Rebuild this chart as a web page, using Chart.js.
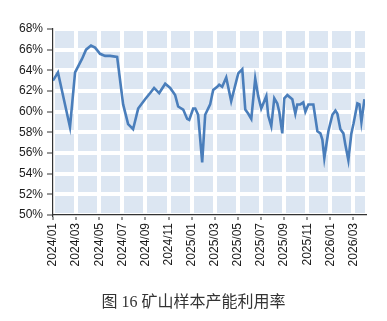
<!DOCTYPE html>
<html>
<head>
<meta charset="utf-8">
<script src="https://cdn.jsdelivr.net/npm/chart.js@4/dist/chart.umd.min.js"></script>
<style>
  body { margin: 0; background: #fff; }
  #wrap { position: relative; width: 387px; height: 321px; }
  #caption {
    position: absolute; left: 0; top: 288px; width: 387px; text-align: center;
    font-family: "Liberation Serif", "Noto Sans CJK SC", serif; font-size: 16px; color: #333;
  }
</style>
</head>
<body>
<div id="wrap">
  <canvas id="rateChart" width="387" height="321"></canvas>
  <div id="caption">图 16 矿山样本产能利用率</div>
</div>
<script>

// months since 2024/01 and utilisation rate in %
const months = [
  0.00, 0.43, 1.47, 1.91, 2.51, 2.86, 3.29, 3.64, 4.07, 4.51, 4.94, 5.55,
  6.07, 6.50, 6.93, 7.37, 7.97, 8.41, 8.75, 9.19, 9.71, 10.14, 10.57, 10.83,
  11.27, 11.61, 11.79, 12.13, 12.31, 12.56, 12.91, 13.17, 13.60, 13.86, 14.21, 14.38,
  14.64, 14.99, 15.42, 16.03, 16.38, 16.64, 16.90, 17.16, 17.50, 17.76, 18.02, 18.46,
  18.63, 18.89, 19.15, 19.41, 19.58, 19.84, 20.02, 20.28, 20.71, 20.97, 21.14, 21.40,
  21.66, 21.84, 22.10, 22.53, 22.88, 23.14, 23.31, 23.48, 23.83, 24.18, 24.44, 24.61,
  24.87, 25.13, 25.30, 25.56, 25.82, 26.00, 26.34, 26.52, 26.69, 26.95
];
const rates = [
  63.0, 63.8, 58.5, 63.8, 65.1, 66.0, 66.4, 66.2, 65.6, 65.4, 65.4, 65.3,
  60.7, 58.8, 58.3, 60.3, 61.2, 61.8, 62.3, 61.8, 62.7, 62.3, 61.6, 60.5,
  60.2, 59.3, 59.2, 60.3, 60.3, 59.7, 55.1, 59.7, 60.7, 62.1, 62.4, 62.6,
  62.4, 63.3, 61.0, 63.7, 64.1, 60.2, 59.8, 59.3, 63.2, 61.5, 60.3, 61.5,
  59.6, 58.6, 61.3, 60.8, 60.0, 57.9, 61.3, 61.6, 61.2, 59.8, 60.7, 60.7,
  60.9, 60.0, 60.7, 60.7, 58.1, 57.9, 57.3, 55.5, 58.1, 59.7, 60.1, 59.8,
  58.3, 57.9, 56.8, 55.3, 57.9, 58.8, 60.8, 60.7, 59.0, 61.2
];
const tickLabels = [
  '2024/01', '2024/03', '2024/05', '2024/07', '2024/09', '2024/11',
  '2025/01', '2025/03', '2025/05', '2025/07', '2025/09', '2025/11',
  '2026/01', '2026/03'
];

const points = months.map((m, i) => ({ x: m, y: rates[i] }));

// light blue plot background like the excel default
const plotBg = {
  id: 'plotBg',
  beforeDraw(chart) {
    const a = chart.chartArea;
    const ctx = chart.ctx;
    ctx.save();
    ctx.fillStyle = '#dce6f2';
    ctx.fillRect(a.left, a.top, a.right - a.left, a.bottom - a.top);
    ctx.restore();
  }
};

const tickFont = { family: 'Liberation Sans', size: 12 };

new Chart(document.getElementById('rateChart').getContext('2d'), {
  type: 'line',
  data: {
    datasets: [{
      data: points,
      borderColor: '#4a7ebb',
      borderWidth: 2.6,
      pointRadius: 0,
      tension: 0,
      fill: false
    }]
  },
  options: {
    responsive: false,
    animation: false,
    layout: { padding: { left: 0, top: 29, right: 22, bottom: 0 } },
    plugins: { legend: { display: false }, tooltip: { enabled: false } },
    scales: {
      x: {
        type: 'linear',
        min: 0,
        max: 27,
        afterBuildTicks: (scale) => {
          scale.ticks = tickLabels.map((l, i) => ({ value: i * 2 }));
        },
        afterFit: (scale) => { scale.height = 106; },
        ticks: {
          autoSkip: false,
          minRotation: 90,
          maxRotation: 90,
          padding: 3,
          color: '#1a1a1a',
          font: tickFont,
          callback: (v) => tickLabels[Math.round(v / 2)]
        },
        grid: { color: '#ffffff', lineWidth: 4, tickColor: '#333', tickWidth: 1, tickLength: 5 },
        border: { color: '#333', width: 1.2 }
      },
      y: {
        min: 50,
        max: 68,
        afterFit: (scale) => { scale.width = 53; },
        ticks: {
          stepSize: 2,
          padding: 4,
          color: '#1a1a1a',
          font: tickFont,
          callback: (v) => v + '%'
        },
        grid: { color: '#ffffff', lineWidth: 4, tickColor: '#333', tickWidth: 1, tickLength: 6 },
        border: { color: '#333', width: 1.2 }
      }
    }
  },
  plugins: [plotBg]
});
</script>
</body>
</html>
